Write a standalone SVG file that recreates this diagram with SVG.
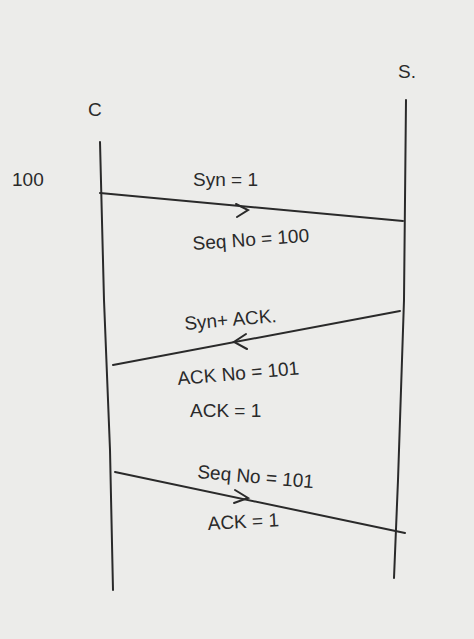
<svg xmlns="http://www.w3.org/2000/svg" width="474" height="639" viewBox="0 0 474 639">
<style>
.t{font-family:"Liberation Sans",sans-serif;font-size:19px;fill:#2a2a2a}
.l{stroke:#2a2a2a;stroke-width:2;fill:none;stroke-linecap:round}
</style>
<rect width="474" height="639" fill="#ececea"/>
<g id="client"><text class="t" x="88" y="116">C</text><path class="l" d="M100 142 L104 300 L110 450 L113 590"/></g>
<g id="server"><text class="t" x="398" y="78">S.</text><path class="l" d="M406 100 L404 300 L398 480 L394 578"/></g>
<g id="label100"><text class="t" x="12" y="186">100</text></g>
<g id="connectors">
<path class="l" d="M100 193 L403 221"/><path class="l" d="M236 204 L248 210 L237 217"/>
<path class="l" d="M400 311 L113 365"/><path class="l" d="M246 334 L234 342 L247 349"/>
<path class="l" d="M115 472 L405 533"/><path class="l" d="M235 490 L248 498 L234 503"/>
</g>
<g id="labels">
<text class="t" x="193" y="186">Syn = 1</text>
<text class="t" x="193" y="250" transform="rotate(-4 193 250)">Seq No = 100</text>
<text class="t" x="185" y="330" transform="rotate(-5 185 330)">Syn+ ACK.</text>
<text class="t" x="178" y="385" transform="rotate(-5 178 385)">ACK No = 101</text>
<text class="t" x="190" y="417">ACK = 1</text>
<text class="t" x="197" y="478" transform="rotate(5 197 478)">Seq No = 101</text>
<text class="t" x="208" y="530" transform="rotate(-3 208 530)">ACK = 1</text>
</g>
</svg>
